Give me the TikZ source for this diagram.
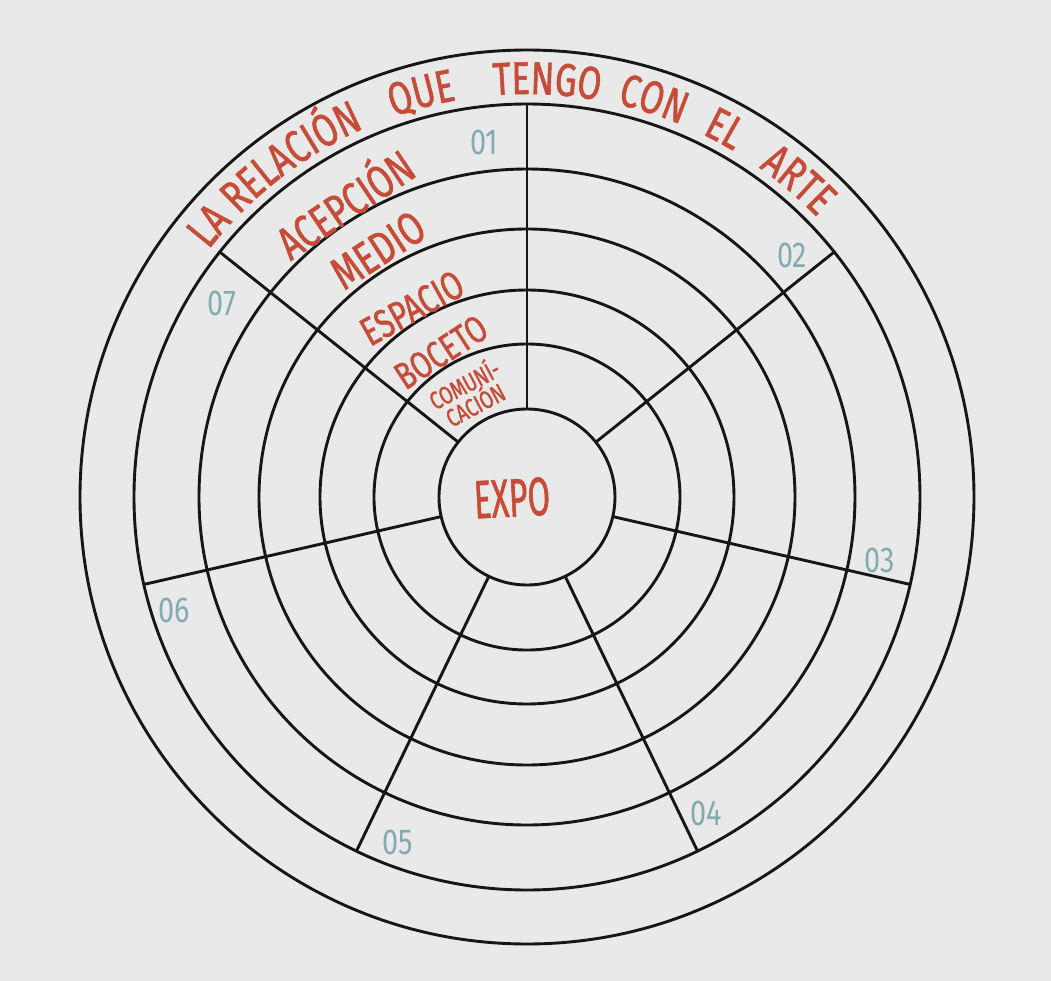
\documentclass[tikz,border=0pt]{standalone}
\usepackage{fontspec}
\usetikzlibrary{decorations.text}
\newfontfamily\hand[FakeStretch=0.75, FakeBold=1.2]{Fira Sans}
\newfontfamily\numhand[FakeStretch=0.8]{Fira Sans}
\newcommand\titlefmt{\hand\fontsize{23}{23}\selectfont}
\definecolor{paper}{RGB}{233,233,233}
\definecolor{ink}{RGB}{22,22,22}
\definecolor{redink}{RGB}{198,76,56}
\definecolor{numcol}{RGB}{130,170,176}
\tikzset{
  ringline/.style={draw=ink, line width=1.45pt},
  lbl/.style={text=redink, font=\hand, inner sep=0pt, align=center},
  num/.style={text=numcol, font=\numhand\fontsize{18}{18}\selectfont, inner sep=0pt},
  titleword/.style={decorate, decoration={text along path, text color=redink, text align=center, text={|\titlefmt|#1}}}
}
\begin{document}
\begin{tikzpicture}[x=0.5pt,y=0.5pt]
\fill[paper] (-527,497) rectangle (524,-484);
\useasboundingbox (-527,497) rectangle (524,-484);
% rings
\foreach \r in {88,153,207,268,328,393,447}
  \draw[ringline] (0,0) circle (\r);
% spokes
\foreach \i in {0,...,6}
  \draw[ringline] ({90+\i*360/7}:88) -- ({90+\i*360/7}:393);
% title along the outer ring
\path[titleword={LA RELACIÓN}] (163:403) arc[start angle=163, end angle=93, radius=403];
\path[titleword={QUE}] (120:403) arc[start angle=120, end angle=89.4, radius=403];
\path[titleword={TENGO}] (103:403) arc[start angle=103, end angle=71.4, radius=403];
\path[titleword={CON}] (88:403) arc[start angle=88, end angle=56.6, radius=403];
\path[titleword={EL}] (77:403) arc[start angle=77, end angle=46.4, radius=403];
\path[titleword={ARTE}] (67:403) arc[start angle=67, end angle=31.8, radius=403];
% ring labels in sector 01
\node[lbl, font=\hand\fontsize{23}{23}\selectfont, rotate=34] (acep) at (-184,296) {ACEPCIÓN};
\node[lbl, font=\hand\fontsize{23}{23}\selectfont, rotate=33] (medio) at (-149,247) {MEDIO};
\node[lbl, font=\hand\fontsize{20}{20}\selectfont, rotate=29] (espacio) at (-115,189) {ESPACIO};
\node[lbl, font=\hand\fontsize{19}{19}\selectfont, rotate=33] (boceto) at (-86,145) {BOCETO};
\node[lbl, font=\hand\fontsize{12.5}{12.5}\selectfont, rotate=28] (comu) at (-58,104) {COMUNÍ-\\[-1pt]CACIÓN};
\node[lbl, font=\hand\fontsize{27}{27}\selectfont, rotate=3, xscale=0.8] (expo) at (-15,-1) {EXPO};
% sector numbers
\node[num] (n1) at (-43,355) {01};
\node[num] (n2) at (265,242) {02};
\node[num] (n3) at (353,-63) {03};
\node[num] (n4) at (179,-316) {04};
\node[num] (n5) at (-129,-345) {05};
\node[num] (n6) at (-353,-113) {06};
\node[num] (n7) at (-305,194) {07};
\end{tikzpicture}
\end{document}
